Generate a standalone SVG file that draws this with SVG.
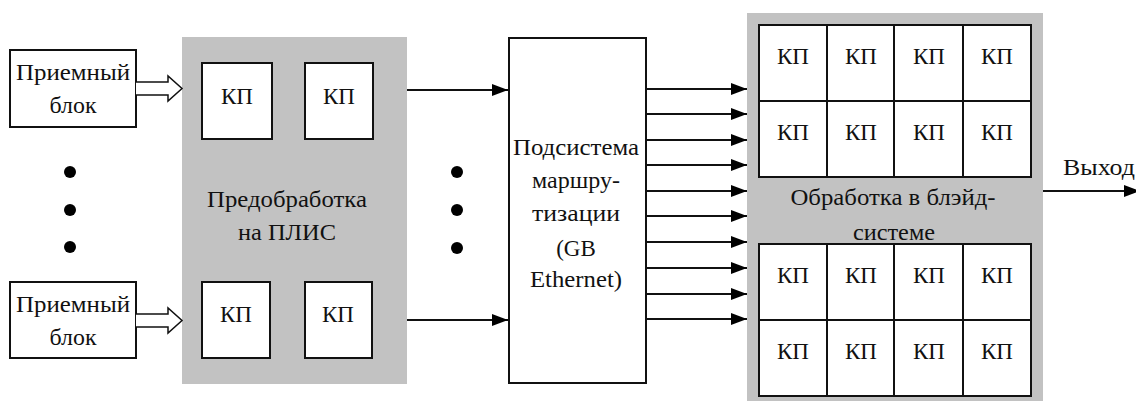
<svg xmlns="http://www.w3.org/2000/svg" width="1136" height="403" viewBox="0 0 1136 403" font-family="Liberation Serif, serif">
<style>
text{font-size:23px;fill:#111;text-anchor:middle}
.box{fill:#fff;stroke:#111;stroke-width:2}
.grey{fill:#c2c2c2;stroke:none}
.ln{stroke:#111;stroke-width:2;fill:none}
.hollow{fill:#fff;stroke:#111;stroke-width:1.5}
.dot{fill:#000}
</style>
<defs>
<marker id="ah" viewBox="0 0 16 12" refX="16" refY="6" markerWidth="16" markerHeight="12" markerUnits="userSpaceOnUse" orient="auto">
<path d="M0,0 L16,6 L0,12 Z" fill="#000"/>
</marker>
</defs>
<g id="rx1">
<rect class="box" x="10" y="50" width="126" height="77"/>
<text x="73" y="80" textLength="114" lengthAdjust="spacingAndGlyphs">Приемный</text>
<text x="73" y="113" textLength="47" lengthAdjust="spacingAndGlyphs">блок</text>
</g>
<g id="rx2">
<rect class="box" x="10" y="282" width="126" height="76"/>
<text x="73" y="312" textLength="114" lengthAdjust="spacingAndGlyphs">Приемный</text>
<text x="73" y="345" textLength="47" lengthAdjust="spacingAndGlyphs">блок</text>
</g>

<g id="dots-left">
<circle class="dot" cx="70" cy="172" r="6"/>
<circle class="dot" cx="70" cy="210" r="6"/>
<circle class="dot" cx="70" cy="247" r="6"/>
</g>

<g id="fpga">
<rect class="grey" x="182" y="37" width="225" height="347"/>
<rect class="box" x="202" y="63" width="70" height="76"/>
<text x="237" y="104">КП</text>
<rect class="box" x="305" y="63" width="68" height="76"/>
<text x="339" y="104">КП</text>
<rect class="box" x="202" y="282" width="68" height="76"/>
<text x="236" y="322">КП</text>
<rect class="box" x="305" y="282" width="67" height="76"/>
<text x="338" y="322">КП</text>
<text x="287" y="207" textLength="160" lengthAdjust="spacingAndGlyphs">Предобработка</text>
<text x="287" y="240" textLength="98" lengthAdjust="spacingAndGlyphs">на ПЛИС</text>
</g>

<g id="dots-mid">
<circle class="dot" cx="457" cy="172" r="6"/>
<circle class="dot" cx="457" cy="210" r="6"/>
<circle class="dot" cx="457" cy="248" r="6"/>
</g>

<g id="router">
<rect class="box" x="509" y="38" width="137" height="345"/>
<text x="576" y="155" textLength="126" lengthAdjust="spacingAndGlyphs">Подсистема</text>
<text x="576" y="188" textLength="88" lengthAdjust="spacingAndGlyphs">маршру-</text>
<text x="576" y="221" textLength="88" lengthAdjust="spacingAndGlyphs">тизации</text>
<text x="576" y="256">(GB</text>
<text x="576" y="287" textLength="92" lengthAdjust="spacingAndGlyphs">Ethernet)</text>
</g>

<g id="blade">
<rect class="grey" x="747" y="13" width="296" height="388"/>
<rect class="box" x="759" y="25" width="272" height="152"/>
<rect class="box" x="759" y="244" width="272" height="152"/>
<path class="ln" d="M759,101H1031M827,25V177M894,25V177M963,25V177M759,320H1031M827,244V396M894,244V396M963,244V396"/>
<text x="793" y="64">КП</text><text x="861" y="64">КП</text><text x="929" y="64">КП</text><text x="997" y="64">КП</text>
<text x="793" y="140">КП</text><text x="861" y="140">КП</text><text x="929" y="140">КП</text><text x="997" y="140">КП</text>
<text x="793" y="283">КП</text><text x="861" y="283">КП</text><text x="929" y="283">КП</text><text x="997" y="283">КП</text>
<text x="793" y="359">КП</text><text x="861" y="359">КП</text><text x="929" y="359">КП</text><text x="997" y="359">КП</text>
<text x="893" y="205" textLength="205" lengthAdjust="spacingAndGlyphs">Обработка в блэйд-</text>
<text x="894" y="240" textLength="82" lengthAdjust="spacingAndGlyphs">системе</text>
</g>

<g id="out-label">
<text x="1099" y="175" textLength="72" lengthAdjust="spacingAndGlyphs">Выход</text>
</g>

<g id="connectors">
<path class="hollow" d="M136,82 H168 V76 L182,88.5 L168,101 V95 H136"/>
<path class="hollow" d="M136,314 H168 V308 L182,320.5 L168,333 V327 H136"/>
<line class="ln" x1="407" y1="90" x2="508" y2="90" marker-end="url(#ah)"/>
<line class="ln" x1="407" y1="320" x2="508" y2="320" marker-end="url(#ah)"/>
<line class="ln" x1="646" y1="89" x2="747" y2="89" marker-end="url(#ah)"/>
<line class="ln" x1="646" y1="114" x2="747" y2="114" marker-end="url(#ah)"/>
<line class="ln" x1="646" y1="140" x2="747" y2="140" marker-end="url(#ah)"/>
<line class="ln" x1="646" y1="165" x2="747" y2="165" marker-end="url(#ah)"/>
<line class="ln" x1="646" y1="191" x2="747" y2="191" marker-end="url(#ah)"/>
<line class="ln" x1="646" y1="216" x2="747" y2="216" marker-end="url(#ah)"/>
<line class="ln" x1="646" y1="242" x2="747" y2="242" marker-end="url(#ah)"/>
<line class="ln" x1="646" y1="268" x2="747" y2="268" marker-end="url(#ah)"/>
<line class="ln" x1="646" y1="294" x2="747" y2="294" marker-end="url(#ah)"/>
<line class="ln" x1="646" y1="319" x2="747" y2="319" marker-end="url(#ah)"/>
<line class="ln" x1="1043" y1="191" x2="1140" y2="191" marker-end="url(#ah)"/>
</g>
</svg>
